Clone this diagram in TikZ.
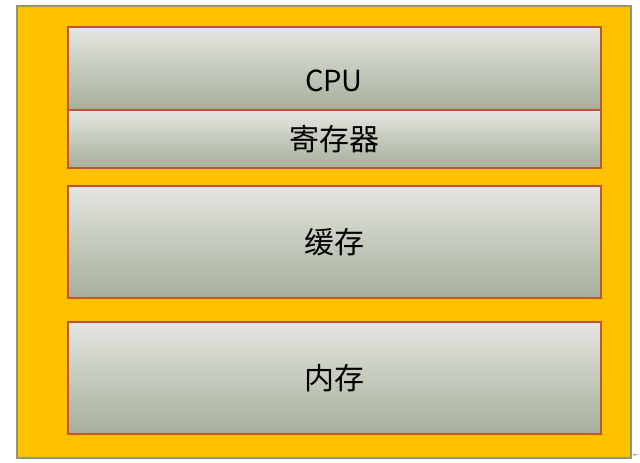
\documentclass[tikz,border=0pt]{standalone}
\usepackage{fontspec}
\newfontfamily\cjk{Noto Sans CJK SC}
\newfontfamily\symfont{DejaVu Sans}
\usetikzlibrary{positioning}
\definecolor{boardyellow}{HTML}{FFC000}
\definecolor{boardedge}{HTML}{8C9A6C}
\definecolor{layeredge}{HTML}{BE5436}
\definecolor{layertop}{HTML}{E4E6E0}
\definecolor{layermid}{HTML}{D2D6CC}
\definecolor{layerbot}{HTML}{A6AF9A}

\begin{document}
\begin{tikzpicture}[x=1pt,y=-1pt,
    layer/.style={draw=layeredge, line width=1.3pt, top color=layertop, middle color=layermid, bottom color=layerbot,
      minimum width=533pt, inner sep=0pt, font=\cjk\fontsize{30}{30}\selectfont},
    word/.style={font=\cjk\fontsize{29}{29}\selectfont, inner sep=0pt}]
    \useasboundingbox (0,0) rectangle (640,463);
    % yellow board
    \draw[boardedge, line width=1.2pt, fill=boardyellow] (17,6) rectangle (631,458);

    % the layers
    \node[layer, minimum height=83pt] (cpu) at (334.5,68.5) {};
    \node[word] (cpulabel) at (334,81) {CPU};
    \node[layer, minimum height=58pt] (reg) at (334.5,139) {寄存器};
    \node[layer, minimum height=112pt] (cache) at (334.5,242) {缓存};
    \node[layer, minimum height=112pt] (mem) at (334.5,378) {内存};

    % paragraph mark
    \node[text=gray, font=\symfont\fontsize{7}{7}\selectfont, inner sep=0pt] (mark) at (636,456) {←};
\end{tikzpicture}
\end{document}
